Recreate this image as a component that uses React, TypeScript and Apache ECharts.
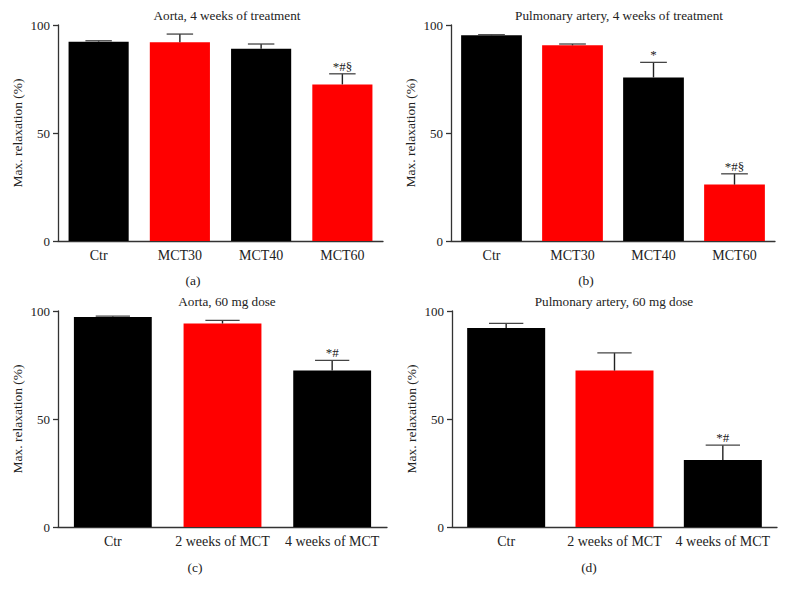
import React, { useEffect, useRef } from "react";
import * as echarts from "echarts";

// ---------- data ----------
const groupCats4 = ["Ctr", "MCT30", "MCT40", "MCT60"];
const groupCats3 = ["Ctr", "2 weeks of MCT", "4 weeks of MCT"];

const aorta4wMean = [92.3, 92.0, 89.0, 72.5];
const aorta4wSem = [0.4, 3.8, 2.2, 4.9];
const aorta4wSig = ["", "", "", "*#§"];

const pa4wMean = [95.2, 90.6, 75.7, 26.1];
const pa4wSem = [0.3, 0.6, 7.0, 5.0];
const pa4wSig = ["", "", "*", "*#§"];

const aorta60Mean = [97.2, 94.2, 72.4];
const aorta60Sem = [0.4, 1.5, 4.7];
const aorta60Sig = ["", "", "*#"];

const pa60Mean = [92.1, 72.4, 31.0];
const pa60Sem = [2.2, 8.2, 6.9];
const pa60Sig = ["", "", "*#"];

const yTicks = [0, 50, 100];
const panelTitles = [
  "Aorta, 4 weeks of treatment",
  "Pulmonary artery, 4 weeks of treatment",
  "Aorta, 60 mg dose",
  "Pulmonary artery, 60 mg dose",
];
const panelLetters = ["(a)", "(b)", "(c)", "(d)"];
const yAxisName = "Max. relaxation (%)";

// ---------- styles / layout ----------
const FONT = "'Liberation Serif', 'Times New Roman', serif";
const BLACK = "#000000";
const RED = "#ff0000";
const colors4 = [BLACK, RED, BLACK, RED];
const colors3 = [BLACK, RED, BLACK];

const panels = [
  { cats: groupCats4, mean: aorta4wMean, sem: aorta4wSem, sig: aorta4wSig, colors: colors4,
    grid: { left: 58, top: 25, width: 325, height: 216 }, barFrac: 0.74,
    titleX: 222, titleY: 4, letterX: 193, letterY: 280 },
  { cats: groupCats4, mean: pa4wMean, sem: pa4wSem, sig: pa4wSig, colors: colors4,
    grid: { left: 451, top: 25, width: 324, height: 216 }, barFrac: 0.75,
    titleX: 614, titleY: 4, letterX: 586, letterY: 280 },
  { cats: groupCats3, mean: aorta60Mean, sem: aorta60Sem, sig: aorta60Sig, colors: colors3,
    grid: { left: 58, top: 311, width: 329, height: 216 }, barFrac: 0.71,
    titleX: 222, titleY: 290, letterX: 195, letterY: 567 },
  { cats: groupCats3, mean: pa60Mean, sem: pa60Sem, sig: pa60Sig, colors: colors3,
    grid: { left: 452, top: 311, width: 325, height: 216 }, barFrac: 0.72,
    titleX: 609, titleY: 290, letterX: 589, letterY: 567 },
];

function buildOption() {
  const grid: any[] = [];
  const xAxis: any[] = [];
  const yAxis: any[] = [];
  const series: any[] = [];
  const title: any[] = [];
  const graphic: any[] = [];

  panels.forEach((p, k) => {
    grid.push({ ...p.grid, containLabel: false });
    xAxis.push({
      type: "category",
      gridIndex: k,
      data: p.cats,
      axisLine: { lineStyle: { color: "#333", width: 1.3 } },
      axisTick: { alignWithLabel: true, length: 5, lineStyle: { color: "#333", width: 1.3 } },
      axisLabel: { color: "#222", fontSize: 14, fontFamily: FONT, margin: 7, interval: 0 },
      splitLine: { show: false },
    });
    yAxis.push({
      type: "value",
      gridIndex: k,
      min: yTicks[0],
      max: yTicks[yTicks.length - 1],
      interval: yTicks[1] - yTicks[0],
      name: yAxisName,
      nameLocation: "middle",
      nameGap: 34,
      nameTextStyle: { color: "#222", fontSize: 13.5, fontFamily: FONT },
      axisLine: { show: true, lineStyle: { color: "#333", width: 1.3 } },
      axisTick: { show: true, length: 5, lineStyle: { color: "#333", width: 1.3 } },
      axisLabel: { color: "#222", fontSize: 13, fontFamily: FONT, margin: 8 },
      splitLine: { show: false },
    });
    series.push({
      type: "bar",
      xAxisIndex: k,
      yAxisIndex: k,
      barWidth: Math.round(p.barFrac * 100) + "%",
      data: p.mean.map((v, i) => ({ value: v, itemStyle: { color: p.colors[i] } })),
      z: 2,
    });
    const sig = p.sig;
    const frac = p.barFrac;
    series.push({
      type: "custom",
      xAxisIndex: k,
      yAxisIndex: k,
      z: 5,
      encode: { x: 0, y: 1 },
      data: p.mean.map((v, i) => [i, v, p.sem[i]]),
      renderItem: (params: any, api: any) => {
        const i = api.value(0);
        const m = api.value(1);
        const s = api.value(2);
        const base = api.coord([i, m]);
        const top = api.coord([i, m + s]);
        const bw = api.size([1, 0])[0] * frac;
        const half = bw * 0.22;
        const children: any[] = [
          { type: "line", shape: { x1: base[0], y1: base[1], x2: top[0], y2: top[1] },
            style: { stroke: "#222", lineWidth: 1.4 } },
          { type: "line", shape: { x1: top[0] - half, y1: top[1], x2: top[0] + half, y2: top[1] },
            style: { stroke: "#444", lineWidth: 1.3 } },
        ];
        const label = sig[params.dataIndex];
        if (label) {
          children.push({
            type: "text",
            x: top[0],
            y: top[1] - 1,
            style: { text: label, textAlign: "center", textVerticalAlign: "bottom",
              fontSize: 13, fontFamily: FONT, fill: "#222" },
          });
        }
        return { type: "group", children };
      },
    });
    title.push({
      text: panelTitles[k],
      left: p.titleX,
      top: p.titleY,
      textAlign: "center",
      textStyle: { color: "#222", fontSize: 13.2, fontWeight: "normal", fontFamily: FONT },
    });
    graphic.push({
      type: "text",
      x: p.letterX,
      y: p.letterY,
      style: { text: panelLetters[k], textAlign: "center", textVerticalAlign: "middle",
        fontSize: 13.5, fontFamily: FONT, fill: "#222" },
    });
  });

  return {
    animation: false,
    backgroundColor: "#ffffff",
    title,
    grid,
    xAxis,
    yAxis,
    series,
    graphic,
  };
}

export default function App() {
  const ref = useRef<HTMLDivElement>(null);
  useEffect(() => {
    if (!ref.current) return;
    const chart = echarts.init(ref.current, undefined, { renderer: "svg" });
    chart.setOption(buildOption() as any);
    return () => chart.dispose();
  }, []);
  return (
    <div
      ref={ref}
      style={{ position: "absolute", left: 0, top: 0, width: 785, height: 591, background: "#fff" }}
    />
  );
}
